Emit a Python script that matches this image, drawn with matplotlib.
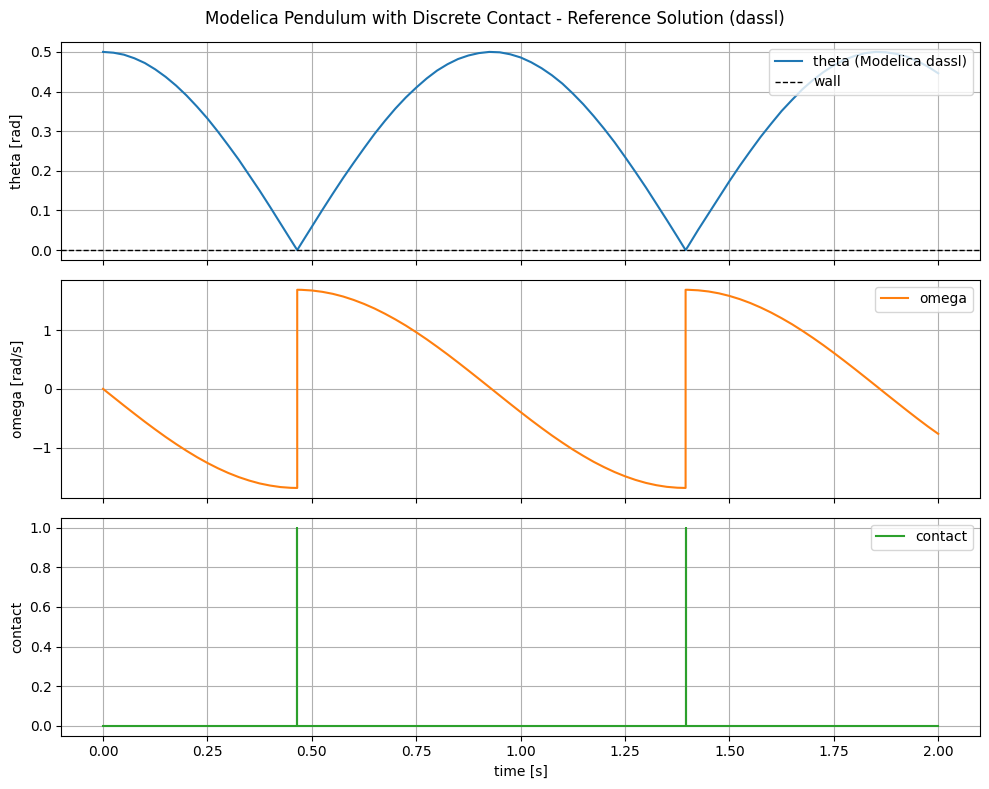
import matplotlib
matplotlib.use("Agg")
import matplotlib.pyplot as plt

# time samples (impacts at ~0.465 s and ~1.395 s)
t = [0.000, 0.025, 0.050, 0.075, 0.100, 0.125, 0.150, 0.175, 0.200, 0.225,
     0.250, 0.275, 0.300, 0.325, 0.350, 0.375, 0.400, 0.425, 0.450, 0.465,
     0.475, 0.500, 0.525, 0.550, 0.575, 0.600, 0.625, 0.650, 0.675, 0.700,
     0.725, 0.750, 0.775, 0.800, 0.825, 0.850, 0.875, 0.900, 0.925, 0.950,
     0.975, 1.000, 1.025, 1.050, 1.075, 1.100, 1.125, 1.150, 1.175, 1.200,
     1.225, 1.250, 1.275, 1.300, 1.325, 1.350, 1.375, 1.395, 1.400, 1.425,
     1.450, 1.475, 1.500, 1.525, 1.550, 1.575, 1.600, 1.625, 1.650, 1.675,
     1.700, 1.725, 1.750, 1.775, 1.800, 1.825, 1.850, 1.875, 1.900, 1.925,
     1.950, 1.975, 2.000]
theta = [0.500, 0.498, 0.493, 0.484, 0.472, 0.456, 0.437, 0.415, 0.390, 0.362,
         0.332, 0.299, 0.264, 0.228, 0.189, 0.150, 0.109, 0.067, 0.025, 0.000,
         0.017, 0.059, 0.101, 0.142, 0.182, 0.220, 0.257, 0.293, 0.326, 0.357,
         0.385, 0.410, 0.433, 0.453, 0.469, 0.482, 0.491, 0.497, 0.500, 0.499,
         0.494, 0.486, 0.474, 0.459, 0.441, 0.420, 0.395, 0.368, 0.338, 0.306,
         0.272, 0.235, 0.197, 0.158, 0.117, 0.076, 0.034, 0.000, 0.008, 0.051,
         0.092, 0.133, 0.174, 0.213, 0.250, 0.286, 0.319, 0.351, 0.379, 0.406,
         0.429, 0.449, 0.466, 0.480, 0.490, 0.497, 0.500, 0.499, 0.495, 0.488,
         0.477, 0.463, 0.446]

# omega jumps at each impact, so the impact times appear twice
t_omega = [0.000, 0.025, 0.050, 0.075, 0.100, 0.125, 0.150, 0.175, 0.200, 0.225,
           0.250, 0.275, 0.300, 0.325, 0.350, 0.375, 0.400, 0.425, 0.450, 0.465, 0.465,
           0.475, 0.500, 0.525, 0.550, 0.575, 0.600, 0.625, 0.650, 0.675, 0.700,
           0.725, 0.750, 0.775, 0.800, 0.825, 0.850, 0.875, 0.900, 0.925, 0.950,
           0.975, 1.000, 1.025, 1.050, 1.075, 1.100, 1.125, 1.150, 1.175, 1.200,
           1.225, 1.250, 1.275, 1.300, 1.325, 1.350, 1.375, 1.395, 1.395, 1.400, 1.425,
           1.450, 1.475, 1.500, 1.525, 1.550, 1.575, 1.600, 1.625, 1.650, 1.675,
           1.700, 1.725, 1.750, 1.775, 1.800, 1.825, 1.850, 1.875, 1.900, 1.925,
           1.950, 1.975, 2.000]
omega = [0.000, -0.142, -0.284, -0.423, -0.560, -0.692, -0.820, -0.941, -1.056, -1.164,
         -1.263, -1.353, -1.434, -1.504, -1.563, -1.612, -1.648, -1.674, -1.687, -1.689, 1.689,
         1.688, 1.677, 1.654, 1.620, 1.574, 1.516, 1.448, 1.370, 1.281, 1.184,
         1.079, 0.965, 0.845, 0.718, 0.587, 0.451, 0.312, 0.171, 0.029, -0.114,
         -0.256, -0.396, -0.533, -0.666, -0.795, -0.917, -1.034, -1.142, -1.244, -1.335,
         -1.418, -1.490, -1.552, -1.603, -1.642, -1.670, -1.685, -1.689, 1.689, 1.689, 1.680,
         1.660, 1.628, 1.584, 1.529, 1.463, 1.386, 1.300, 1.204, 1.101, 0.988,
         0.869, 0.744, 0.613, 0.478, 0.340, 0.199, 0.057, -0.086, -0.227, -0.368,
         -0.506, -0.640, -0.767]

t_contact = [0.0, 0.465, 0.465, 0.465, 1.395, 1.395, 1.395, 2.0]
contact = [0, 0, 1, 0, 0, 1, 0, 0]

wall = 0.0

fig, (ax1, ax2, ax3) = plt.subplots(3, 1, figsize=(10, 8), dpi=100, sharex=True)

ax1.plot(t, theta, label='theta (Modelica dassl)')
ax1.axhline(wall, color='k', linestyle='--', linewidth=1, label='wall')
ax1.set_ylabel('theta [rad]')
ax1.legend(loc='upper right')
ax1.grid(True)

ax2.plot(t_omega, omega, color='C1', label='omega')
ax2.set_ylabel('omega [rad/s]')
ax2.legend(loc='upper right')
ax2.grid(True)

ax3.plot(t_contact, contact, color='C2', label='contact')
ax3.set_ylabel('contact')
ax3.set_xlabel('time [s]')
ax3.legend(loc='upper right')
ax3.grid(True)

fig.suptitle('Modelica Pendulum with Discrete Contact - Reference Solution (dassl)')
plt.tight_layout()
plt.savefig('out.png', bbox_inches='tight')
